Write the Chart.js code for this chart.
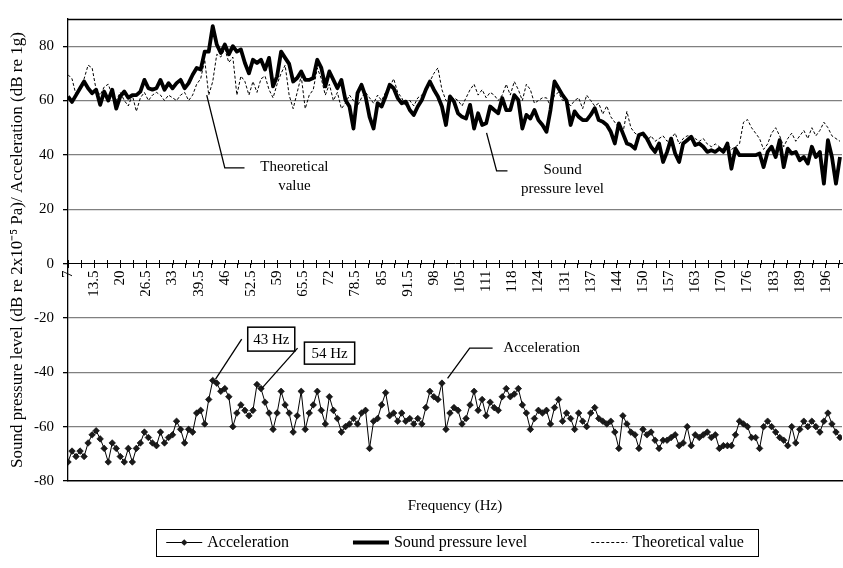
<!DOCTYPE html>
<html>
<head>
<meta charset="utf-8">
<script src="https://cdn.jsdelivr.net/npm/chart.js@4.4.1/dist/chart.umd.min.js"></script>
<style>
html,body{margin:0;padding:0;background:#fff;}
#wrap{width:843px;height:568px;}
</style>
</head>
<body>
<div id="wrap"><canvas id="c" width="843" height="568"></canvas></div>
<script>
// ---------- DATA ----------
const frequencies = [
  7,8,9,10,11,12,13,14,15,16,
  17,18,19,20,21,22,23,24,25,26,
  27,28,29,30,31,32,33,34,35,36,
  37,38,39,40,41,42,43,44,45,46,
  47,48,49,50,51,52,53,54,55,56,
  57,58,59,60,61,62,63,64,65,66,
  67,68,69,70,71,72,73,74,75,76,
  77,78,79,80,81,82,83,84,85,86,
  87,88,89,90,91,92,93,94,95,96,
  97,98,99,100,101,102,103,104,105,106,
  107,108,109,110,111,112,113,114,115,116,
  117,118,119,120,121,122,123,124,125,126,
  127,128,129,130,131,132,133,134,135,136,
  137,138,139,140,141,142,143,144,145,146,
  147,148,149,150,151,152,153,154,155,156,
  157,158,159,160,161,162,163,164,165,166,
  167,168,169,170,171,172,173,174,175,176,
  177,178,179,180,181,182,183,184,185,186,
  187,188,189,190,191,192,193,194,195,196,
  197,198,199
];

const acceleration = [
  -73,-69,-71,-69,-71,-66,-63,-61.5,-64.5,-68,
  -73,-66,-68,-71,-73,-68,-73,-68,-66,-62,
  -64,-66,-67,-62,-66,-64,-63,-58,-61,-66,
  -61,-62,-55,-54,-59,-50,-43,-44,-47,-46,
  -49,-60,-55,-52,-54,-56,-54,-44.5,-46,-51,
  -55,-61,-55,-47,-52,-55,-62,-56,-47,-61,
  -55,-52,-47,-54,-59,-49,-54,-57,-62,-60,
  -59,-57,-59,-55,-54,-68,-58,-57,-52,-47.5,
  -56,-55,-58,-55,-58,-57,-59,-57,-59,-53,
  -47,-49,-50,-44,-61,-55,-53,-54,-59,-57,
  -52,-47,-54,-50,-56,-51,-53,-54,-49,-46,
  -49,-48,-46,-52,-55,-61,-57,-54,-55,-54,
  -59,-53,-50,-58,-55,-57,-61,-55,-58,-60,
  -55,-53,-57,-58,-59,-58,-62,-68,-56,-59,
  -62,-63,-68,-61,-63,-62,-65,-68,-65,-65,
  -64,-63,-67,-66,-60,-67,-63,-64,-63,-62,
  -64,-63,-68,-67,-67,-67,-63,-58,-59,-60,
  -64,-64,-68,-60,-58,-60,-62,-64,-65,-67,
  -60,-66,-61,-58,-60,-58,-60,-62,-58,-55,
  -59,-62,-64
];

const soundPressureLevel = [
  61.5,59.5,62,64.5,67,64.5,62.7,64,58.4,63.3,
  60,64,57,61.5,63.3,61,62,62,63.3,67.6,
  64.5,64,64.5,67.6,64,66.4,64.5,66.4,67.6,64.5,
  66.4,69.5,72,71.4,78,78,87.4,80.6,77.5,80.6,
  77,80,78,78.8,73.8,70,75,73.8,75,71.4,
  75.7,65.2,68.9,78,75.7,73.5,67,68.3,70.7,67.6,
  67.6,68.3,75,72,65.2,70.7,67.6,64.5,67.6,60.2,
  57.8,49.7,62.7,65.8,61.5,54,49.7,59,57.8,61.5,
  65.8,64.5,60.9,59,59.6,56.5,54.7,57.8,60.2,64,
  67,64,61.5,57.8,51,61.5,59.6,55.3,54,53.4,
  58.4,49.7,55.3,51,51.6,57.8,56.5,55.3,60.9,56.5,
  56.5,62,60.2,49.7,54.7,53.4,56.5,52.8,51,48.5,
  56.5,67,64.5,62,60,51,56,54,52.8,52.8,
  54.7,57.2,52.8,52.2,51,48.5,44.2,51.6,47.9,44.2,
  43.6,42.3,47.3,47.9,46,43,41.1,44.2,37.4,41.1,
  46,40.5,37.4,44.2,45.4,46.7,43.6,44.2,43,41.1,
  41.7,41.1,42.3,41.1,44.2,34.9,42.3,39.9,39.9,39.9,
  39.9,39.9,40.5,35.5,41.1,43,39.2,45.4,35.5,42.3,
  40.5,41.1,38,39.2,36.8,43,39.2,41.1,29.4,45.4,
  39.2,29.4,39.2
];

const theoreticalValue = [
  69.5,68,62,65,68,73,72,64,62,65,
  66,62,60,63,60,58,62,56,61,63,
  60,62,63,62,60,62,61,60,62,63,
  60,62,66,68,75,62,67,77,76,79,
  74,76,62,69,67,62,67,63,68,69,
  64,61,66,70,73,62,57,63,69,57,
  62,64,72,68,62,66,60,63,57,59,
  62,60,58,61,63,61,59,62,60,63,
  65,68,63,61,58,60,58,61,62,64,
  67,70,72,64,60,59,61,60,58,61,
  64,66,62,64,61,63,62,60,62,66,
  62,67,64,60,66,64,59,60,61,61,
  58,62,63,60,60,58,60,61,57,62,
  60,58,59,55,58,54,52,50,48,56,
  50,48,47,47,45,47,45,46,47,45,
  46,48,44,46,47,47,46,45,46,44,
  43,44,43,42,44,42,43,44,52,53,
  50,48,46,42,44,48,50,47,43,46,
  48,45,47,49,46,50,47,49,52,50,
  47,46,45
];

const seriesNames = ['Acceleration', 'Sound pressure level', 'Theoretical value'];
const xTickLabels = ['7','13.5','20','26.5','33','39.5','46','52.5','59','65.5','72','78.5','85','91.5','98',
  '105','111','118','124','131','137','144','150','157','163','170','176','183','189','196'];
const yTickValues = [-80,-60,-40,-20,0,20,40,60,80,90];
const xTitle = 'Frequency (Hz)';
const yTitle = 'Sound pressure level (dB re 2x10\u207B\u2075 Pa)/ Acceleration (dB re 1g)';

// ---------- AXIS SETTINGS ----------
const X_MIN = 7, X_MAX = 199.5, X_TICK_STEP = 3.25;
const xTickValues = [];
for (let v = X_MIN; v <= X_MAX; v += X_TICK_STEP) xTickValues.push(v);

// callouts, positioned in data units (frequency, dB)
const callouts = [
  {lines: ['Theoretical', 'value'], textAt: [63.3, 35.5], leader: [[41.5, 62], [46, 35.2], [50.9, 35.2]]},
  {lines: ['Sound', 'pressure level'], textAt: [130, 34.4], leader: [[111.1, 48.1], [113.6, 34.1], [116.3, 34.1]]},
  {lines: ['Acceleration'], textAt: [124.8, -31.1], leader: [[101.4, -42.2], [106.9, -31.1], [112.6, -31.1]]},
  {lines: ['43 Hz'], box: [51.7, -23.4, 63.4, -32.2], leader: [[43.7, -42.5], [50.2, -27.8]]},
  {lines: ['54 Hz'], box: [65.8, -28.9, 78.3, -37], leader: [[55.2, -45.9], [64.1, -31.1]]}
];

const FONT = '"Liberation Serif", "Times New Roman", serif';
Chart.defaults.font.family = FONT;
Chart.defaults.color = '#000';

// ---------- PLUGINS ----------
const framePlugin = {
  id: 'frame',
  afterDraw(chart) {
    const ctx = chart.ctx, ca = chart.chartArea;
    ctx.save();
    ctx.strokeStyle = '#000';
    ctx.lineWidth = 1.5;
    ctx.beginPath();
    ctx.moveTo(ca.left, Math.round(ca.top) + 0.5);
    ctx.lineTo(ca.right, Math.round(ca.top) + 0.5);
    ctx.stroke();
    // upper half of cross tick marks on the mid x axis
    const xm = chart.scales.xm;
    const y0 = Math.round(chart.scales.y.getPixelForValue(0));
    ctx.lineWidth = 1;
    ctx.beginPath();
    xm.ticks.forEach(t => {
      const px = Math.round(xm.getPixelForValue(t.value)) + 0.5;
      ctx.moveTo(px, y0 - 4);
      ctx.lineTo(px, y0 + 0.5);
    });
    ctx.stroke();
    ctx.restore();
  }
};

const calloutPlugin = {
  id: 'callouts',
  afterDraw(chart) {
    const ctx = chart.ctx, xs = chart.scales.x, ys = chart.scales.y;
    const P = (f, v) => [xs.getPixelForValue(f), ys.getPixelForValue(v)];
    ctx.save();
    ctx.font = '15px ' + FONT;
    ctx.fillStyle = '#000';
    ctx.strokeStyle = '#000';
    callouts.forEach(c => {
      ctx.lineWidth = 1.3;
      ctx.beginPath();
      c.leader.forEach((pt, i) => {
        const [px, py] = P(pt[0], pt[1]);
        if (i === 0) ctx.moveTo(px, py); else ctx.lineTo(px, py);
      });
      ctx.stroke();
      ctx.textAlign = 'center';
      ctx.textBaseline = 'middle';
      if (c.box) {
        const [x1, y1] = P(c.box[0], c.box[1]);
        const [x2, y2] = P(c.box[2], c.box[3]);
        ctx.fillStyle = '#fff';
        ctx.fillRect(x1, y1, x2 - x1, y2 - y1);
        ctx.lineWidth = 1.5;
        ctx.strokeRect(x1, y1, x2 - x1, y2 - y1);
        ctx.fillStyle = '#000';
        ctx.fillText(c.lines[0], (x1 + x2) / 2, (y1 + y2) / 2 + 1);
      } else {
        const [tx, ty] = P(c.textAt[0], c.textAt[1]);
        c.lines.forEach((ln, i) => ctx.fillText(ln, tx, ty + i * 19));
      }
    });
    ctx.restore();
  }
};

const legendPlugin = {
  id: 'boxLegend',
  afterDraw(chart) {
    const ctx = chart.ctx, ds = chart.data.datasets, ca = chart.chartArea;
    ctx.save();
    ctx.font = '16px ' + FONT;
    const symW = 36, gap = 5, sep = 64;
    const widths = ds.map(d => symW + gap + ctx.measureText(d.label).width);
    const total = widths.reduce((a, b) => a + b, 0) + sep * (ds.length - 1);
    let x = (ca.left + ca.right) / 2 - total / 2;
    const yc = Math.round(chart.scales.x.bottom + 27);
    ctx.strokeStyle = '#000';
    ctx.lineWidth = 1;
    ctx.strokeRect(Math.round(x - 10) + 0.5, yc - 13 + 0.5, Math.round(total + 24), 27);
    ds.forEach((d, i) => {
      ctx.save();
      ctx.strokeStyle = d.borderColor;
      ctx.lineWidth = d.borderWidth;
      ctx.setLineDash(d.borderDash || []);
      ctx.beginPath();
      ctx.moveTo(x, yc + 0.5);
      ctx.lineTo(x + symW, yc + 0.5);
      ctx.stroke();
      ctx.setLineDash([]);
      if (d.pointRadius > 0) {
        const cx = x + symW / 2, r = d.pointRadius;
        ctx.fillStyle = d.pointBackgroundColor;
        ctx.beginPath();
        ctx.moveTo(cx - r, yc + 0.5); ctx.lineTo(cx, yc + 0.5 - r);
        ctx.lineTo(cx + r, yc + 0.5); ctx.lineTo(cx, yc + 0.5 + r);
        ctx.closePath();
        ctx.fill();
      }
      ctx.restore();
      ctx.fillStyle = '#000';
      ctx.textAlign = 'left';
      ctx.textBaseline = 'middle';
      ctx.fillText(d.label, x + symW + gap, yc + 1);
      x += widths[i] + sep;
    });
    ctx.restore();
  }
};

// ---------- CHART ----------
const transparent = 'rgba(0,0,0,0)';
new Chart(document.getElementById('c'), {
  type: 'line',
  data: {
    labels: frequencies,
    datasets: [
      {
        label: seriesNames[0], data: acceleration, order: 0,
        borderColor: '#000', borderWidth: 1,
        pointStyle: 'rectRot', pointRadius: 3.3, pointBorderWidth: 0.6,
        pointBackgroundColor: '#1a1a1a', pointBorderColor: '#000',
        tension: 0, fill: false
      },
      {
        label: seriesNames[1], data: soundPressureLevel, order: 1,
        borderColor: '#000', borderWidth: 3.8, pointRadius: 0,
        borderJoinStyle: 'round', tension: 0, fill: false
      },
      {
        label: seriesNames[2], data: theoreticalValue, order: 2,
        borderColor: '#000', borderWidth: 1, borderDash: [3, 2], pointRadius: 0,
        tension: 0, fill: false
      }
    ]
  },
  options: {
    responsive: false,
    animation: false,
    devicePixelRatio: 1,
    layout: {autoPadding: false, padding: {top: 19, right: 1, bottom: 53, left: 0}},
    plugins: {legend: {display: false}, tooltip: {enabled: false}, title: {display: false}},
    scales: {
      x: {
        type: 'linear', position: 'bottom', min: X_MIN, max: X_MAX,
        ticks: {display: false},
        grid: {display: true, drawOnChartArea: false, drawTicks: false},
        border: {display: true, color: '#000', width: 1.5},
        title: {display: true, text: xTitle, font: {size: 15}, color: '#000', padding: {top: 16, bottom: 0}}
      },
      xm: {
        type: 'linear', position: {y: 0}, min: X_MIN, max: X_MAX,
        afterBuildTicks: s => { s.ticks = xTickValues.map(v => ({value: v})); },
        afterFit: s => { s.paddingLeft = 0; s.paddingRight = 0; },
        ticks: {
          autoSkip: false, minRotation: 90, maxRotation: 90,
          callback: (v, i) => (i % 2 === 0 ? (xTickLabels[i / 2] || '') : ''),
          font: {size: 15}, color: '#000', padding: 3
        },
        grid: {display: true, drawOnChartArea: false, drawTicks: true, tickLength: 4, color: '#000', tickColor: '#000', lineWidth: 1},
        border: {display: true, color: '#000', width: 1}
      },
      y: {
        type: 'linear', min: -80, max: 90,
        afterBuildTicks: s => { s.ticks = yTickValues.map(v => ({value: v})); },
        afterFit: s => { s.width = 68; },
        ticks: {
          autoSkip: false,
          callback: v => (v === 90 ? '' : String(v)),
          font: {size: 15}, color: '#000', padding: 9
        },
        grid: {
          color: c => ((c.tick && [0, -80, 90].includes(c.tick.value)) ? transparent : '#808080'),
          tickColor: c => ((c.tick && c.tick.value === 90) ? transparent : '#000'),
          lineWidth: 1.3, tickLength: 5, drawTicks: true
        },
        border: {display: true, color: '#000', width: 1.3},
        title: {display: true, text: yTitle, font: {size: 17}, color: '#000', padding: {top: 7, bottom: 0}}
      }
    }
  },
  plugins: [framePlugin, calloutPlugin, legendPlugin]
});
</script>
</body>
</html>
